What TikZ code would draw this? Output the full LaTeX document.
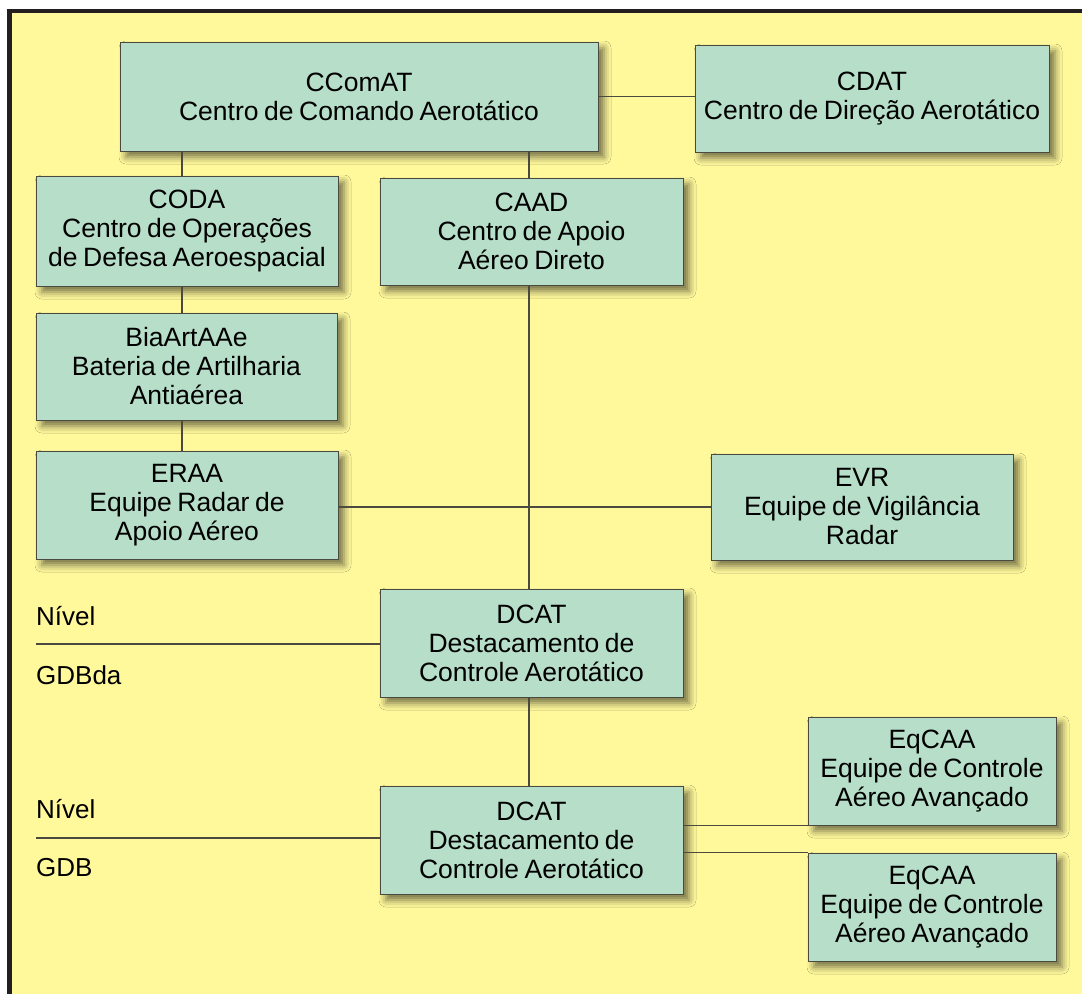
\documentclass[tikz,border=0pt]{standalone}
\usepackage{fontspec}
\setmainfont{Liberation Sans}[WordSpace=0.75]
\usetikzlibrary{shadows.blur}
\definecolor{bg}{HTML}{FFF99C}
\definecolor{boxfill}{HTML}{B6DEC8}
\definecolor{boxline}{HTML}{4A4A40}
\definecolor{framec}{HTML}{231F20}
\tikzset{
  box/.style={draw=boxline, line width=1pt, fill=boxfill, inner sep=0pt, align=center,
    font=\fontsize{26.5}{29}\selectfont,
    blur shadow={shadow xshift=6pt, shadow yshift=-6pt, shadow blur radius=7pt, shadow opacity=55}},
  conn/.style={draw=boxline, line width=1.3pt},
  lvl/.style={anchor=west, inner sep=0pt, font=\fontsize{26}{29}\selectfont}
}
\begin{document}
\begin{tikzpicture}[x=1pt,y=-1pt]
\useasboundingbox (0,0) rectangle (1082,994);
\fill[white] (0,0) rectangle (1082,994);
\fill[bg] (7,9) rectangle (1082,994);
\fill[framec] (7,9) rectangle (12,994);
\fill[framec] (7,9) rectangle (1082,13);

\coordinate (xl) at (182,0);
\coordinate (xc) at (529,0);

\node[box, minimum width=478pt, minimum height=109pt] (ccomat) at (359,96.5) {CComAT\\Centro de Comando Aerotático};
\node[box, minimum width=354pt, minimum height=107pt] (cdat) at (872,98.5) {CDAT\\Centro de Direção Aerotático};
\node[box, minimum width=302pt, minimum height=110pt] (coda) at (187,231) {CODA\\Centro de Operações\\de Defesa Aeroespacial};
\node[box, minimum width=303pt, minimum height=107pt] (caad) at (531.5,231.5) {CAAD\\Centro de Apoio\\Aéreo Direto};
\node[box, minimum width=301pt, minimum height=107pt] (bia) at (186.5,366.5) {BiaArtAAe\\Bateria de Artilharia\\Antiaérea};
\node[box, minimum width=302pt, minimum height=108pt] (eraa) at (187,505) {ERAA\\Equipe Radar de\\Apoio Aéreo};
\node[box, minimum width=302pt, minimum height=106pt] (evr) at (862,507) {EVR\\Equipe de Vigilância\\Radar};
\node[box, minimum width=303pt, minimum height=108pt] (dcat1) at (531.5,643) {DCAT\\Destacamento de\\Controle Aerotático};
\node[box, minimum width=303pt, minimum height=108pt] (dcat2) at (531.5,840) {DCAT\\Destacamento de\\Controle Aerotático};
\node[box, minimum width=248pt, minimum height=108pt] (eq1) at (932,771) {EqCAA\\Equipe de Controle\\Aéreo Avançado};
\node[box, minimum width=248pt, minimum height=108pt] (eq2) at (932,907) {EqCAA\\Equipe de Controle\\Aéreo Avançado};

\draw[conn] (ccomat.east) -- (ccomat.east -| cdat.west);
\draw[conn] (ccomat.south -| xl) -- (coda.north -| xl);
\draw[conn] (ccomat.south -| xc) -- (caad.north -| xc);
\draw[conn] (coda.south -| xl) -- (bia.north -| xl);
\draw[conn] (bia.south -| xl) -- (eraa.north -| xl);
\draw[conn] (caad.south -| xc) -- (dcat1.north -| xc);
\draw[conn] (evr.west -| eraa.east) -- (evr.west);
\draw[conn] (dcat1.south -| xc) -- (dcat2.north -| xc);
\draw[conn] (eq1.south west -| dcat2.east) -- (eq1.south west);
\draw[conn] (eq2.north west -| dcat2.east) -- (eq2.north west);

\coordinate (lv1) at (36,644);
\coordinate (lv2) at (36,838);
\draw[conn] (lv1) -- (lv1 -| dcat1.west);
\draw[conn] (lv2) -- (lv2 -| dcat2.west);
\node[lvl] (n1) at (36,616) {Nível};
\node[lvl] (g1) at (36,675) {GDBda};
\node[lvl] (n2) at (36,809) {Nível};
\node[lvl] (g2) at (36,868) {GDB};
\end{tikzpicture}
\end{document}
